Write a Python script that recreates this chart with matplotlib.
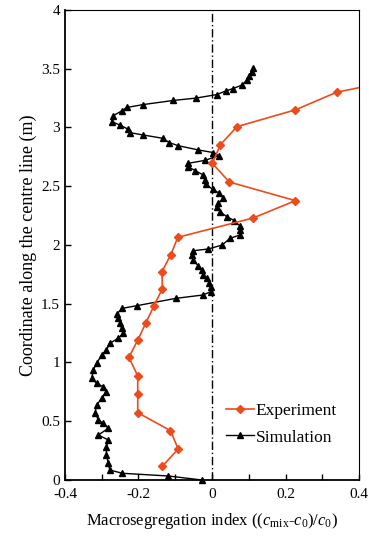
import matplotlib
matplotlib.use('Agg')
import matplotlib.pyplot as plt
from matplotlib.ticker import MultipleLocator

plt.rcParams['font.family'] = ['Liberation Serif', 'DejaVu Serif']
plt.rcParams['mathtext.fontset'] = 'custom'
plt.rcParams['mathtext.rm'] = 'Liberation Serif'
plt.rcParams['mathtext.it'] = 'Liberation Serif:italic'
plt.rcParams['axes.unicode_minus'] = False

# experiment: macrosegregation index vs height (m)
exp_x = [-0.135, -0.092, -0.113, -0.202, -0.202, -0.202, -0.226, -0.202,
         -0.180, -0.158, -0.135, -0.136, -0.112, -0.093, 0.112, 0.227,
         0.047, 0.001, 0.023, 0.068, 0.227, 0.339, 0.45]
exp_y = [0.117, 0.264, 0.42, 0.573, 0.729, 0.885, 1.044, 1.19,
         1.336, 1.481, 1.628, 1.773, 1.918, 2.065, 2.23, 2.377,
         2.536, 2.695, 2.854, 3.007, 3.15, 3.30, 3.37]

# simulation
sim_x = [-0.028, -0.119, -0.244, -0.278, -0.282, -0.287, -0.287, -0.282,
         -0.309, -0.282, -0.296, -0.309, -0.318, -0.314, -0.300, -0.287,
         -0.296, -0.314, -0.327, -0.323, -0.314, -0.300, -0.287, -0.278,
         -0.255, -0.241, -0.246, -0.250, -0.255, -0.259, -0.244, -0.203,
         -0.098, -0.025, -0.003, -0.003, -0.007, -0.014, -0.024, -0.028,
         -0.037, -0.051, -0.054, -0.051, -0.010, 0.028, 0.049, 0.076,
         0.076, 0.076, 0.061, 0.040, 0.022, 0.013, 0.017, 0.031,
         0.020, 0.002, -0.017, -0.019, -0.024, -0.046, -0.065, -0.065,
         -0.019, 0.018, 0.004, -0.039, -0.092, -0.116, -0.134, -0.187,
         -0.223, -0.228, -0.250, -0.273, -0.269, -0.246, -0.232, -0.187,
         -0.105, -0.044, 0.013, 0.037, 0.056, 0.081, 0.094, 0.101,
         0.108, 0.112]
sim_y = [0.0, 0.034, 0.057, 0.085, 0.142, 0.213, 0.283, 0.34,
         0.383, 0.44, 0.482, 0.511, 0.568, 0.638, 0.695, 0.752,
         0.794, 0.823, 0.865, 0.936, 0.993, 1.064, 1.106, 1.163,
         1.206, 1.248, 1.291, 1.334, 1.376, 1.413, 1.461, 1.484,
         1.546, 1.574, 1.603, 1.64, 1.674, 1.716, 1.745, 1.787,
         1.821, 1.872, 1.912, 1.951, 1.966, 2.0, 2.057, 2.085,
         2.128, 2.162, 2.207, 2.241, 2.284, 2.32, 2.355, 2.397,
         2.44, 2.474, 2.516, 2.553, 2.596, 2.633, 2.667, 2.695,
         2.72, 2.76, 2.786, 2.81, 2.845, 2.871, 2.908, 2.936,
         2.956, 2.985, 3.02, 3.05, 3.10, 3.14, 3.17, 3.195,
         3.23, 3.25, 3.28, 3.31, 3.33, 3.36, 3.40, 3.44,
         3.475, 3.504]

xticks = [-0.4, -0.2, 0, 0.2, 0.4]
xtick_labels = ['-0.4', '-0.2', '0', '0.2', '0.4']
yticks = [0, 0.5, 1, 1.5, 2, 2.5, 3, 3.5, 4]
ytick_labels = ['0', '0.5', '1', '1.5', '2', '2.5', '3', '3.5', '4']

fig = plt.figure(figsize=(3.69, 5.39), dpi=100)
ax = fig.add_axes([0.176, 0.1095, 0.797, 0.872])

ax.axvline(0, color='black', lw=1.0, linestyle=(0, (6, 2, 1, 2)), zorder=1)

ax.plot(exp_x, exp_y, color='#EE4B1B', lw=1.2, marker='D', markersize=4,
        label='Experiment', zorder=3, clip_on=True)
ax.plot(sim_x, sim_y, color='black', lw=1.0, marker='^', markersize=5,
        label='Simulation', zorder=2, clip_on=False)

ax.set_xlim(-0.4, 0.4)
ax.set_ylim(0, 4)
ax.set_xticks(xticks)
ax.set_xticklabels(xtick_labels)
ax.set_yticks(yticks)
ax.set_yticklabels(ytick_labels)
ax.xaxis.set_minor_locator(MultipleLocator(0.1))
ax.tick_params(which='both', direction='in', labelsize=11, length=4, width=1)
ax.tick_params(axis='x', pad=6)

for side in ['left', 'bottom']:
    ax.spines[side].set_linewidth(1.3)
for side in ['top', 'right']:
    ax.spines[side].set_linewidth(0.8)

ax.set_xlabel(r'Macrosegregation index (($c_{\rm mix}$-$c_0$)/$c_0$)', fontsize=12, labelpad=7)
ax.set_ylabel('Coordinate along the centre line (m)', fontsize=13, labelpad=3)

ax.legend(loc='lower left', bbox_to_anchor=(0.495, 0.04), frameon=False,
          fontsize=12.5, handlelength=1.6, handletextpad=0.1, labelspacing=0.6)

fig.savefig('out.png', dpi=100)
